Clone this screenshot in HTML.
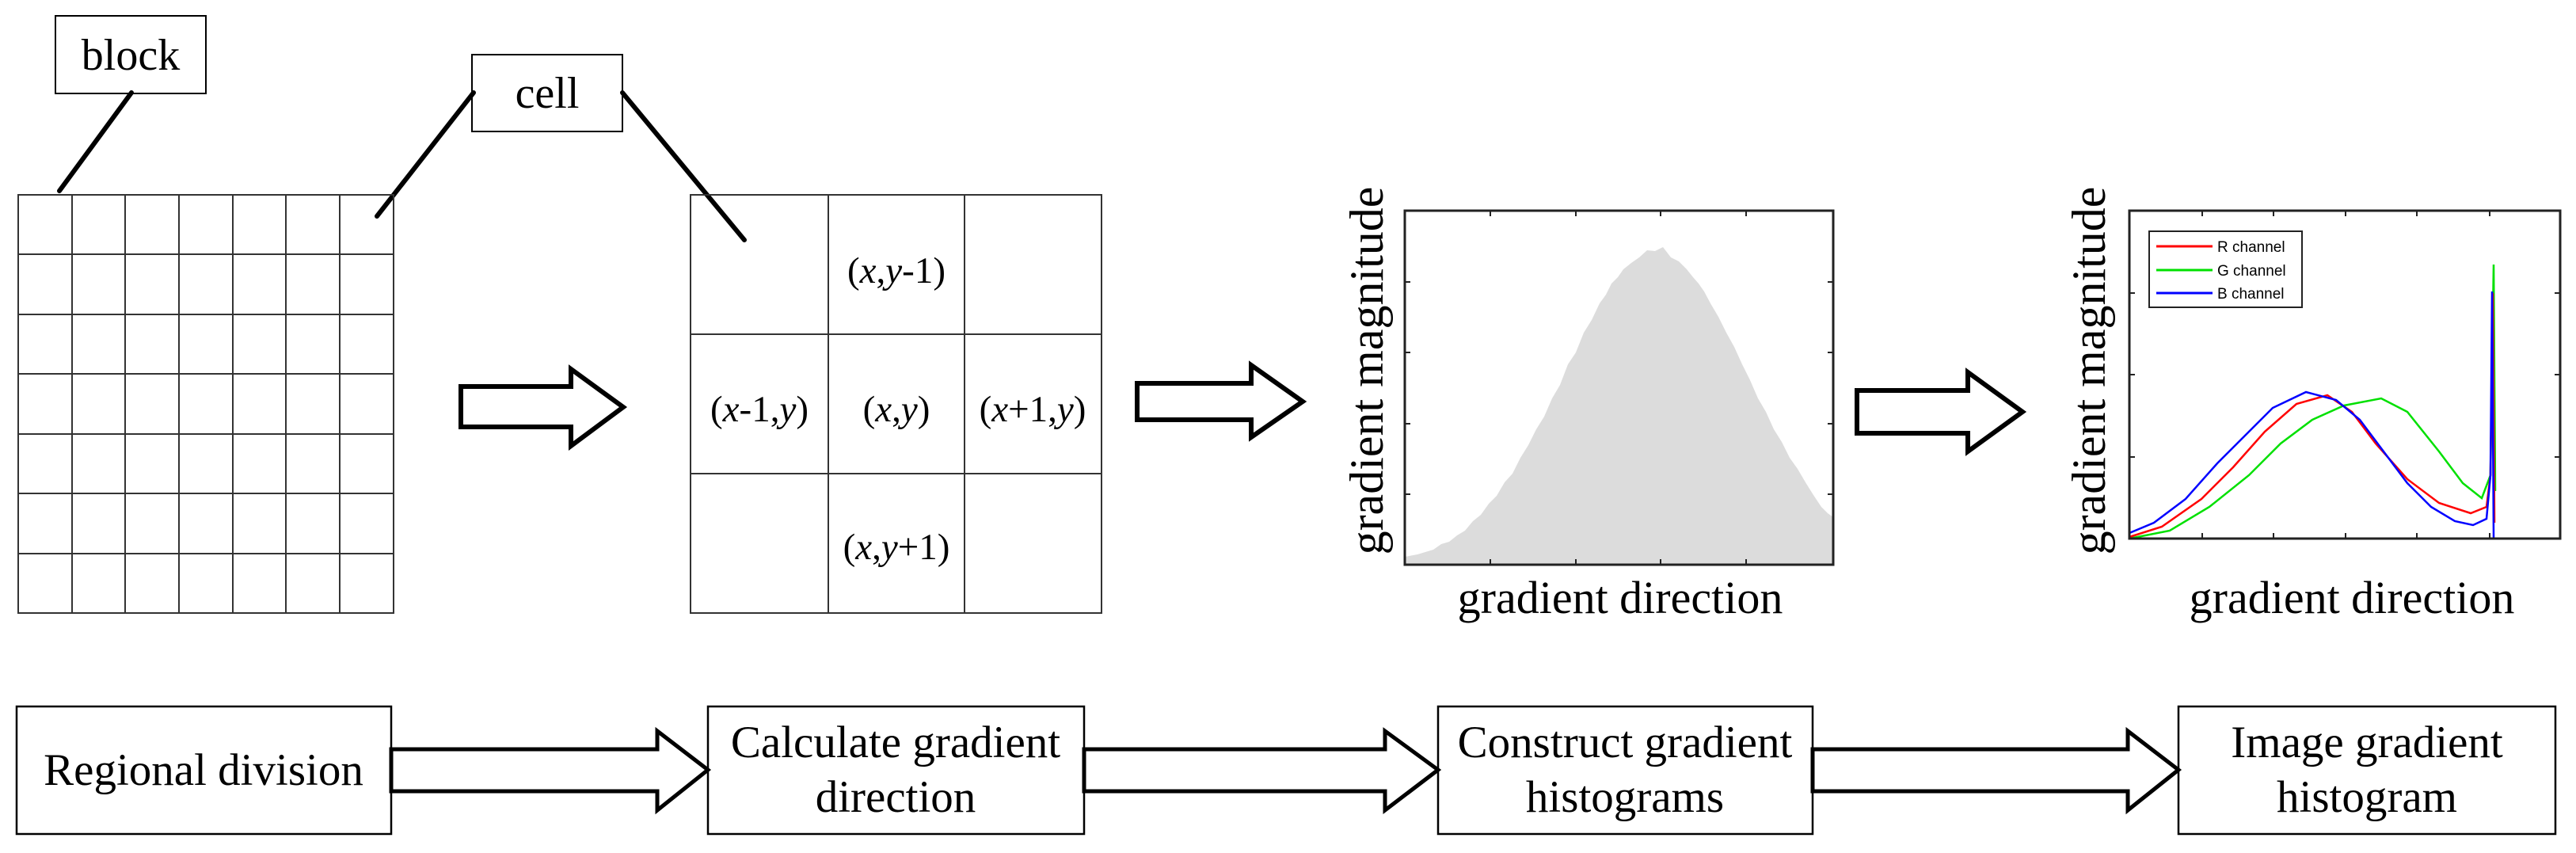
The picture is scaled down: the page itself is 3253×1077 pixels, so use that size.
<!DOCTYPE html>
<html><head><meta charset="utf-8"><style>
html,body{margin:0;padding:0;background:#fff;}
svg{display:block;}
text{font-family:"Liberation Serif",serif;fill:#000;}
</style></head><body>
<svg width="3253" height="1077" viewBox="0 0 3253 1077" xmlns="http://www.w3.org/2000/svg">
<rect x="70" y="20" width="190" height="98" fill="#fff" stroke="#000" stroke-width="2"/>
<text x="165" y="88" font-size="56" text-anchor="middle">block</text>
<rect x="596" y="69" width="190" height="97" fill="#fff" stroke="#000" stroke-width="2"/>
<text x="691" y="136" font-size="56" text-anchor="middle">cell</text>
<g stroke="#000" stroke-width="6" stroke-linecap="round">
<line x1="166" y1="117" x2="75" y2="241"/>
<line x1="598" y1="117" x2="476" y2="273"/>
<line x1="786" y1="117" x2="940" y2="303"/>
</g>
<g stroke="#333" stroke-width="2" fill="none">
<rect x="23" y="246" width="474" height="528"/>
<line x1="91" y1="246" x2="91" y2="774"/><line x1="158" y1="246" x2="158" y2="774"/>
<line x1="226" y1="246" x2="226" y2="774"/><line x1="294" y1="246" x2="294" y2="774"/>
<line x1="361" y1="246" x2="361" y2="774"/><line x1="429" y1="246" x2="429" y2="774"/>
<line x1="23" y1="321" x2="497" y2="321"/><line x1="23" y1="397" x2="497" y2="397"/>
<line x1="23" y1="472" x2="497" y2="472"/><line x1="23" y1="548" x2="497" y2="548"/>
<line x1="23" y1="623" x2="497" y2="623"/><line x1="23" y1="699" x2="497" y2="699"/>
</g>
<g stroke="#333" stroke-width="2" fill="none">
<rect x="872" y="246" width="519" height="528"/>
<line x1="1046" y1="246" x2="1046" y2="774"/><line x1="1218" y1="246" x2="1218" y2="774"/>
<line x1="872" y1="422" x2="1391" y2="422"/><line x1="872" y1="598" x2="1391" y2="598"/>
</g>
<g font-size="47" text-anchor="middle">
<text x="1132" y="357">(<tspan font-style="italic">x</tspan>,<tspan font-style="italic">y</tspan>-1)</text>
<text x="959" y="532">(<tspan font-style="italic">x</tspan>-1,<tspan font-style="italic">y</tspan>)</text>
<text x="1132" y="532">(<tspan font-style="italic">x</tspan>,<tspan font-style="italic">y</tspan>)</text>
<text x="1304" y="532">(<tspan font-style="italic">x</tspan>+1,<tspan font-style="italic">y</tspan>)</text>
<text x="1132" y="706">(<tspan font-style="italic">x</tspan>,<tspan font-style="italic">y</tspan>+1)</text>
</g>
<g fill="#fff" stroke="#000" stroke-width="6" stroke-linejoin="miter">
<polygon points="582,488 721,488 721,466 787,514 721,563 721,539 582,539"/>
<polygon points="1436,484 1580,484 1580,461 1645,507 1580,552 1580,530 1436,530"/>
<polygon points="2345,493 2485,493 2485,470 2554,520 2485,570 2485,547 2345,547"/>
</g>
<path d="M1774,713 L1774,703 1790,700 1800,697 1810,694 1820,687 1830,684 1840,676 1850,670 1860,658 1870,650 1880,636 1890,626 1900,609 1910,598 1920,578 1930,562 1940,542 1950,526 1960,503 1970,486 1980,460 1990,445 2000,420 2010,404 2020,383 2028,372 2035,358 2043,350 2050,340 2060,332 2070,325 2080,316 2090,317 2100,312 2110,325 2120,330 2130,340 2138,350 2145,358 2152,368 2160,383 2170,400 2180,420 2190,438 2200,460 2210,480 2220,503 2230,520 2240,542 2250,558 2260,578 2270,592 2280,609 2290,625 2300,640 2308,648 2315,653 L2315,713 Z" fill="#dcdcdc"/>
<rect x="1774" y="266" width="541" height="447" fill="none" stroke="#222" stroke-width="3"/>
<g stroke="#222" stroke-width="2">
<line x1="1882" y1="713" x2="1882" y2="706"/><line x1="1990" y1="713" x2="1990" y2="706"/>
<line x1="2097" y1="713" x2="2097" y2="706"/><line x1="2205" y1="713" x2="2205" y2="706"/>
<line x1="1882" y1="266" x2="1882" y2="273"/><line x1="1990" y1="266" x2="1990" y2="273"/>
<line x1="2097" y1="266" x2="2097" y2="273"/><line x1="2205" y1="266" x2="2205" y2="273"/>
<line x1="1774" y1="356" x2="1781" y2="356"/><line x1="1774" y1="445" x2="1781" y2="445"/>
<line x1="1774" y1="535" x2="1781" y2="535"/><line x1="1774" y1="624" x2="1781" y2="624"/>
<line x1="2315" y1="356" x2="2308" y2="356"/><line x1="2315" y1="445" x2="2308" y2="445"/>
<line x1="2315" y1="535" x2="2308" y2="535"/><line x1="2315" y1="624" x2="2308" y2="624"/>
</g>
<text x="0" y="0" font-size="60" text-anchor="middle" transform="translate(1746,468) rotate(-90)">gradient magnitude</text>
<text x="2046" y="774" font-size="58" text-anchor="middle">gradient direction</text>
<g fill="none" stroke-width="2.5">
<polyline stroke="#00e000" points="2689,680 2740,670 2790,640 2840,600 2880,560 2920,530 2960,512 3007,503 3040,520 3080,570 3110,610 3134,629 3145,600 3149,334 3151,620"/>
<polyline stroke="#ff0000" points="2689,678 2730,665 2780,630 2820,590 2860,545 2900,510 2939,499 2970,520 3000,560 3040,605 3080,635 3120,648 3140,640 3145,600 3148,370 3150,660"/>
<polyline stroke="#0000ff" points="2689,673 2720,660 2760,630 2800,585 2840,545 2870,515 2912,495 2950,505 2980,530 3010,570 3040,610 3070,640 3100,658 3123,663 3140,655 3145,600 3147,368 3149,680"/>
</g>
<rect x="2689" y="266" width="544" height="414" fill="none" stroke="#222" stroke-width="3"/>
<g stroke="#222" stroke-width="2">
<line x1="2781" y1="680" x2="2781" y2="673"/><line x1="2871" y1="680" x2="2871" y2="673"/>
<line x1="2962" y1="680" x2="2962" y2="673"/><line x1="3052" y1="680" x2="3052" y2="673"/>
<line x1="3144" y1="680" x2="3144" y2="673"/>
<line x1="2781" y1="266" x2="2781" y2="273"/><line x1="2871" y1="266" x2="2871" y2="273"/>
<line x1="2962" y1="266" x2="2962" y2="273"/><line x1="3052" y1="266" x2="3052" y2="273"/>
<line x1="3144" y1="266" x2="3144" y2="273"/>
<line x1="2689" y1="370" x2="2696" y2="370"/><line x1="2689" y1="473" x2="2696" y2="473"/>
<line x1="2689" y1="577" x2="2696" y2="577"/>
<line x1="3233" y1="370" x2="3226" y2="370"/><line x1="3233" y1="473" x2="3226" y2="473"/>
<line x1="3233" y1="577" x2="3226" y2="577"/>
</g>
<rect x="2714" y="292" width="193" height="96" fill="#fff" stroke="#222" stroke-width="2"/>
<g stroke-width="3">
<line x1="2723" y1="311" x2="2794" y2="311" stroke="#ff0000"/>
<line x1="2723" y1="341" x2="2794" y2="341" stroke="#00e000"/>
<line x1="2723" y1="370" x2="2794" y2="370" stroke="#0000ff"/>
</g>
<g font-size="19">
<text x="2800" y="318" style="font-family:'Liberation Sans',sans-serif">R channel</text>
<text x="2800" y="348" style="font-family:'Liberation Sans',sans-serif">G channel</text>
<text x="2800" y="377" style="font-family:'Liberation Sans',sans-serif">B channel</text>
</g>
<text x="0" y="0" font-size="60" text-anchor="middle" transform="translate(2658,468) rotate(-90)">gradient magnitude</text>
<text x="2970" y="774" font-size="58" text-anchor="middle">gradient direction</text>
<g fill="#fff" stroke="#000" stroke-width="2.5">
<rect x="21" y="892" width="473" height="161"/>
<rect x="894" y="892" width="475" height="161"/>
<rect x="1816" y="892" width="473" height="161"/>
<rect x="2751" y="892" width="476" height="161"/>
</g>
<g fill="#fff" stroke="#000" stroke-width="5" stroke-linejoin="miter">
<polygon points="494,946 830,946 830,923 894,972 830,1023 830,999 494,999"/>
<polygon points="1369,946 1749,946 1749,923 1816,972 1749,1023 1749,999 1369,999"/>
<polygon points="2289,946 2687,946 2687,923 2751,972 2687,1023 2687,999 2289,999"/>
</g>
<g font-size="57" text-anchor="middle">
<text x="257" y="991">Regional division</text>
<text x="1131" y="956">Calculate gradient</text>
<text x="1131" y="1025">direction</text>
<text x="2052" y="956">Construct gradient</text>
<text x="2052" y="1025">histograms</text>
<text x="2989" y="956">Image gradient</text>
<text x="2989" y="1025">histogram</text>
</g>
</svg>
</body></html>
